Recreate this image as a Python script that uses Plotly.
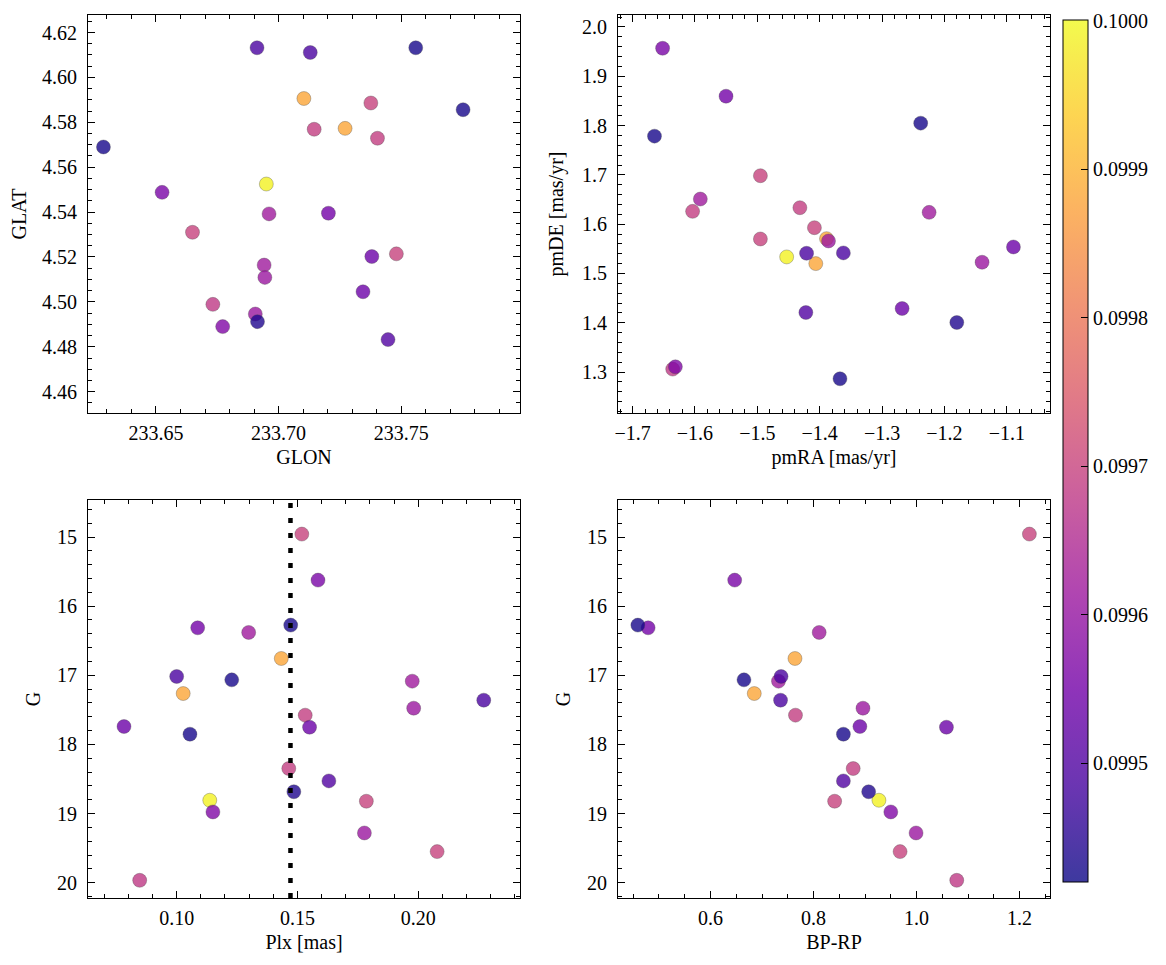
import plotly.graph_objects as go
import plotly.colors as pc
import numpy as np

# ---- data (one entry per star) ----
glon = [233.7376, 233.6525, 233.7559, 233.7203, 233.6961, 233.7103, 233.6912, 233.7752,
        233.6941, 233.7271, 233.7129, 233.6944, 233.7145, 233.7380, 233.7344, 233.6286,
        233.7403, 233.7446, 233.6914, 233.6950, 233.6649, 233.6772, 233.6905, 233.7480, 233.6732]
glat = [4.5886, 4.5488, 4.6132, 4.5395, 4.5392, 4.5906, 4.6132, 4.5856,
        4.5164, 4.5773, 4.6111, 4.5109, 4.5769, 4.5202, 4.5045, 4.5690,
        4.5729, 4.4832, 4.4912, 4.5525, 4.5310, 4.4890, 4.4946, 4.5214, 4.4989]
pmra = [-1.4950, -1.6518, -1.6648, -1.5501, -1.5913, -1.3890, -1.4210, -1.2380,
        -1.2245, -1.4062, -1.3620, -1.1396, -1.6037, -1.0893, -1.2678, -1.3674,
        -1.4317, -1.4221, -1.1801, -1.4529, -1.4084, -1.6313, -1.3858, -1.4950, -1.6356]
pmde = [1.6983, 1.9568, 1.7786, 1.8596, 1.6510, 1.5707, 1.5410, 1.8049,
        1.6240, 1.5200, 1.5417, 1.5228, 1.6260, 1.5538, 1.4289, 1.2864,
        1.6334, 1.4208, 1.4005, 1.5336, 1.5929, 1.3107, 1.5660, 1.5700, 1.3060]
plx = [0.1518, 0.1585, 0.1472, 0.1087, 0.1298, 0.1433, 0.1000, 0.1228,
       0.1975, 0.1027, 0.2271, 0.1981, 0.1532, 0.0782, 0.1550, 0.1055,
       0.1464, 0.1630, 0.1485, 0.1137, 0.1785, 0.1150, 0.1777, 0.2078, 0.0847]
gmag = [14.957, 15.623, 16.274, 16.313, 16.380, 16.757, 17.017, 17.066,
        17.085, 17.264, 17.360, 17.476, 17.577, 17.741, 17.751, 17.852,
        18.349, 18.528, 18.685, 18.808, 18.822, 18.977, 19.281, 19.551, 19.966]
bprp = [1.219, 0.647, 0.459, 0.479, 0.811, 0.764, 0.737, 0.665,
        0.732, 0.685, 0.736, 0.896, 0.765, 0.890, 1.058, 0.858,
        0.877, 0.858, 0.907, 0.927, 0.841, 0.950, 0.999, 0.968, 1.078]
prob = [0.09970, 0.09956, 0.09943, 0.09955, 0.09962, 0.09988, 0.09949, 0.09943,
        0.09962, 0.09988, 0.09949, 0.09961, 0.09969, 0.09954, 0.09954, 0.09943,
        0.09969, 0.09950, 0.09944, 0.09999, 0.09970, 0.09957, 0.09961, 0.09970, 0.09968]
plx_ref = 0.1471
cbar_ticks = [0.0995, 0.0996, 0.0997, 0.0998, 0.0999, 0.1000]
CMIN, CMAX = 0.09942, 0.1000005

# draw highest probability first so low-probability stars sit on top
order = np.argsort(-np.array(prob), kind="stable")
def sel(a):
    return [a[i] for i in order]

# plasma colorscale with alpha
ALPHA = 0.8
stops = pc.sequential.Plasma
cscale = []
for k, c in enumerate(stops):
    r, g, b = pc.hex_to_rgb(c)
    cscale.append([k / (len(stops) - 1), f"rgba({r},{g},{b},{ALPHA})"])

# page has an 8px body margin: figure is placed at (8, 8) in the window
OFF = 8
W, H = 1150, 949
def xd(a, b):
    return [(a - OFF) / W, (b - OFF) / W]
def yd(top, bot):
    return [1 - (bot - OFF) / H, 1 - (top - OFF) / H]

CB_TOP, CB_BOT = 20, 882
FONT = "Liberation Serif, Times New Roman, serif"
fig = go.Figure()

panels = [
    ("x", "y", glon, glat),
    ("x2", "y2", pmra, pmde),
    ("x3", "y3", plx, gmag),
    ("x4", "y4", bprp, gmag),
]
for i, (xa, ya, xs, ys) in enumerate(panels):
    fig.add_trace(go.Scatter(
        x=sel(xs), y=sel(ys), xaxis=xa, yaxis=ya, mode="markers",
        marker=dict(size=14, color=sel(prob), colorscale=cscale, cmin=CMIN, cmax=CMAX,
                    line=dict(width=0.6, color="rgba(70,70,70,0.55)"),
                    showscale=(i == 0),
                    colorbar=dict(
                        x=(1063 - OFF) / W, xanchor="left", y=1 - (CB_TOP - OFF) / H, yanchor="top",
                        len=(CB_BOT - CB_TOP) / H, lenmode="fraction", thickness=25,
                        xpad=0, ypad=0,
                        outlinewidth=1, outlinecolor="black",
                        tickvals=cbar_ticks, tickformat=".4f", ticks="inside",
                        ticklen=7, tickcolor="black", ticklabeloverflow="allow",
                        tickfont=dict(family=FONT, size=20, color="black"),
                    ) if i == 0 else None),
        showlegend=False, hoverinfo="skip"))

fig.add_shape(type="line", xref="x3", yref="y3 domain", x0=plx_ref, x1=plx_ref, y0=0, y1=1,
              line=dict(color="black", width=4.5, dash="5px,10px"), layer="above")

def ax(domain, rng, dtick, minor, fmt, title, standoff, lstand):
    d = dict(domain=domain, range=rng, dtick=dtick, tick0=0, tickformat=fmt,
             showline=True, linecolor="black", linewidth=1.2, mirror="allticks",
             ticks="inside", ticklen=7, tickwidth=1, tickcolor="black",
             minor=dict(ticks="inside", ticklen=4, tickwidth=1, tickcolor="black", dtick=minor, tick0=0),
             showgrid=False, zeroline=False, ticklabelstandoff=lstand,
             tickfont=dict(family=FONT, size=20, color="black"),
             title=dict(text=title, font=dict(family=FONT, size=20, color="black"), standoff=standoff))
    return d

fig.update_layout(
    width=W, height=H, margin=dict(l=0, r=0, t=0, b=0, autoexpand=False),
    paper_bgcolor="white", plot_bgcolor="white",
    xaxis=dict(**ax(xd(88, 520), [233.6223, 233.7984], 0.05, 0.01, ".2f", "GLON", 6, 2), anchor="y"),
    yaxis=dict(**ax(yd(15, 413), [4.4505, 4.6278], 0.02, 0.005, ".2f", "GLAT", 12, 6), anchor="x"),
    xaxis2=dict(**ax(xd(618, 1050), [-1.7233, -1.0307], 0.1, 0.02, ".1f", "pmRA [mas/yr]", 6, 2), anchor="y2"),
    yaxis2=dict(**ax(yd(15, 413), [1.217, 2.0243], 0.1, 0.02, ".1f", "pmDE [mas/yr]", 12, 6), anchor="x2"),
    xaxis3=dict(**ax(xd(88, 520), [0.0633, 0.2421], 0.05, 0.01, ".2f", "Plx [mas]", 6, 2), anchor="y3"),
    yaxis3=dict(**ax(yd(500, 898), [20.222, 14.464], 1, 0.2, "d", "G", 10, 6), anchor="x3"),
    xaxis4=dict(**ax(xd(618, 1050), [0.4205, 1.259], 0.2, 0.05, ".1f", "BP-RP", 6, 2), anchor="y4"),
    yaxis4=dict(**ax(yd(500, 898), [20.222, 14.464], 1, 0.2, "d", "G", 10, 6), anchor="x4"),
)

fig.write_html("out.html")
